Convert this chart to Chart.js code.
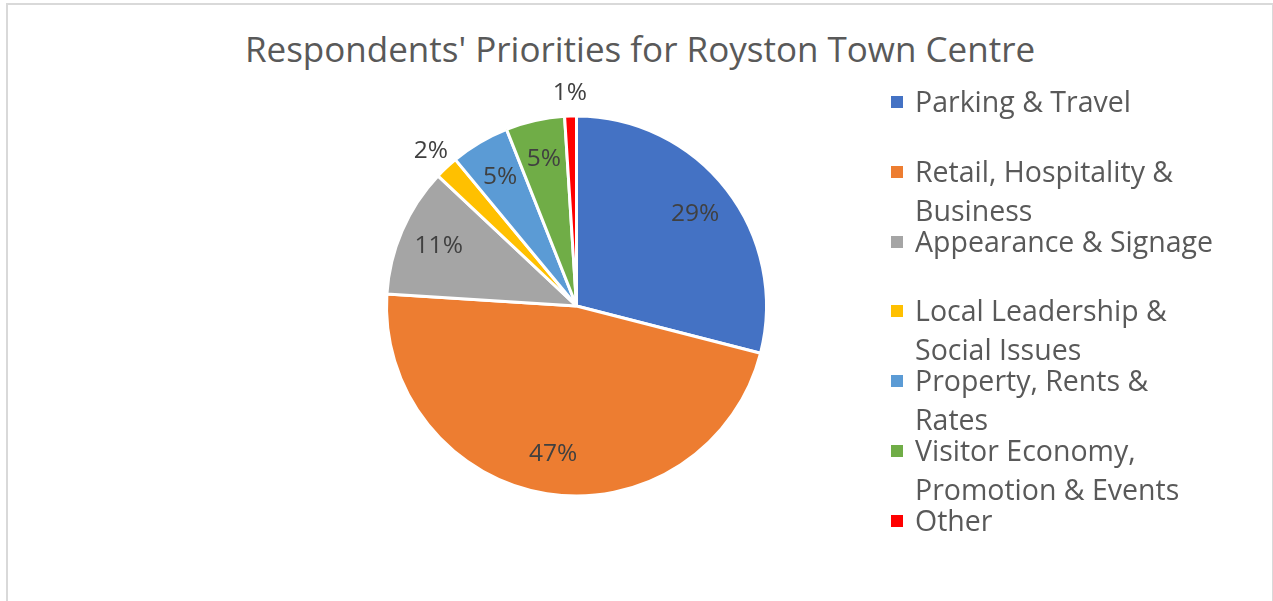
<!DOCTYPE html>
<html>
<head>
<meta charset="utf-8">
<script src="https://cdn.jsdelivr.net/npm/chart.js@4.4.1/dist/chart.umd.min.js"></script>
<style>
  body { margin: 0; background: #fff; width: 1273px; height: 601px; overflow: hidden; position: relative; font-family: "Open Sans", sans-serif; }
  #frame { position: absolute; left: 6px; top: 3px; width: 1268px; height: 640px; border: 2px solid #d9d9d9; box-sizing: border-box; }
  #chart { position: absolute; left: 0; top: 0; }
  #title { position: absolute; left: 7px; width: 1266px; top: 27px; text-align: center; font-size: 35px; line-height: 44px; color: #595959; }
  #legend { position: absolute; left: 891px; top: 82px; margin: 0; padding: 0; list-style: none; }
  #legend li { position: relative; height: 69.8px; padding-left: 24px; width: 310px; font-size: 28.5px; line-height: 39px; color: #595959; white-space: normal; }
  #legend li span { position: absolute; left: 0; top: 14px; width: 12px; height: 12px; }
</style>
</head>
<body>
<div id="frame"></div>
<div id="title">Respondents' Priorities for Royston Town Centre</div>
<canvas id="chart" width="1273" height="601"></canvas>
<ul id="legend"></ul>
<script>
// !======= data =========
const categories = [
  "Parking & Travel",
  "Retail, Hospitality & Business",
  "Appearance & Signage",
  "Local Leadership & Social Issues",
  "Property, Rents & Rates",
  "Visitor Economy, Promotion & Events",
  "Other",
];
const shares = [29, 47, 11, 2, 5, 5, 1];
const sliceColors = ["#4472C4", "#ED7D31", "#A5A5A5", "#FFC000", "#5B9BD5", "#70AD47", "#FF0000"];

// !======= percentage labels =========
const pctLabels = {
  id: "pctLabels",
  afterDatasetsDraw(chart) {
    const ctx = chart.ctx;
    const meta = chart.getDatasetMeta(0);
    ctx.save();
    ctx.font = '24.5px "Open Sans", sans-serif';
    ctx.fillStyle = "#404040";
    ctx.textAlign = "center";
    ctx.textBaseline = "middle";
    meta.data.forEach((arc, i) => {
      const p = arc.getProps(["x", "y", "startAngle", "endAngle", "outerRadius"], true);
      const mid = (p.startAngle + p.endAngle) / 2;
      const k = shares[i] < 3 ? 1.12 : 0.79;
      ctx.fillText(shares[i] + "%", p.x + Math.cos(mid) * p.outerRadius * k, p.y + Math.sin(mid) * p.outerRadius * k);
    });
    ctx.restore();
  },
};

const chart = new Chart(document.getElementById("chart"), {
  type: "pie",
  data: {
    labels: categories,
    datasets: [{
      data: shares,
      backgroundColor: sliceColors,
      borderColor: "#ffffff",
      borderWidth: 3,
    }],
  },
  options: {
    responsive: false,
    animation: false,
    radius: 190,
    layout: { padding: { left: 200, right: 320, top: 100, bottom: 89 } },
    plugins: {
      legend: { display: false },
      tooltip: { enabled: false },
    },
  },
  plugins: [pctLabels],
});

// !======= legend =========
const legend = document.getElementById("legend");
categories.forEach((name, i) => {
  const li = document.createElement("li");
  li.innerHTML = `<span style="background:${sliceColors[i]}"></span>${name}`;
  legend.appendChild(li);
});
</script>
</body>
</html>
